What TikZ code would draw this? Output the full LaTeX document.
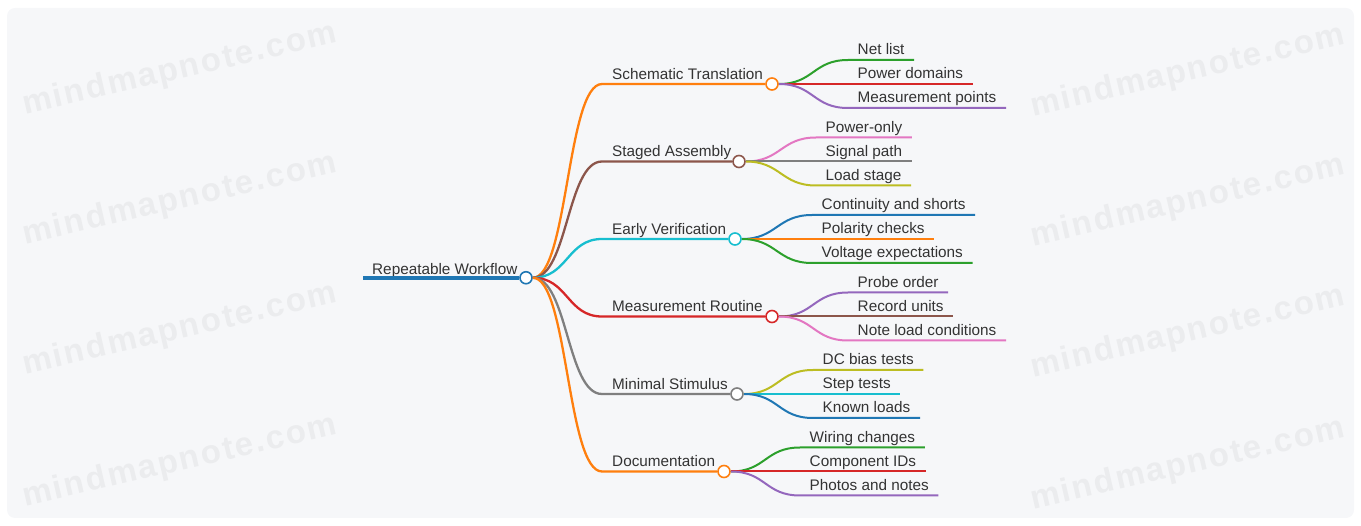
\documentclass[tikz,border=0pt]{standalone}
\usepackage{fontspec}
\setmainfont{Liberation Sans}
\usepackage{xcolor}
\definecolor{cblue}{HTML}{1F77B4}
\definecolor{corange}{HTML}{FF7F0E}
\definecolor{cgreen}{HTML}{2CA02C}
\definecolor{cred}{HTML}{D62728}
\definecolor{cpurple}{HTML}{9467BD}
\definecolor{cbrown}{HTML}{8C564B}
\definecolor{cpink}{HTML}{E377C2}
\definecolor{cgray}{HTML}{7F7F7F}
\definecolor{colive}{HTML}{BCBD22}
\definecolor{ccyan}{HTML}{17BECF}
\definecolor{ink}{HTML}{333333}
\definecolor{panel}{HTML}{F6F7F9}
\definecolor{wmark}{HTML}{EBECEE}
\tikzset{
  knob/.style={circle, draw=#1, fill=white, line width=1.6pt, inner sep=0pt, minimum size=12pt},
  topic/.style={anchor=south west, inner xsep=10pt, inner ysep=4.5pt, text height=11pt, text depth=0pt,
    text=ink, font=\fontsize{15.3}{18}\selectfont},
  leaf/.style={topic, inner xsep=9.5pt, inner ysep=5pt},
  wm/.style={rotate=13, text=wmark, font=\fontsize{33}{40}\selectfont\bfseries\addfontfeature{LetterSpace=6}},
  branch/.style={line width=2.3pt},
  twig/.style={line width=2pt}
}
\begin{document}
\begin{tikzpicture}[x=1pt,y=-1pt]
\useasboundingbox (0,0) rectangle (1361,526);
\fill [panel, rounded corners=8pt] (7,8) rectangle (1354,518);

\node [wm] at (180,70) {mindmapnote.com};
\node [wm] at (180,200) {mindmapnote.com};
\node [wm] at (180,330) {mindmapnote.com};
\node [wm] at (180,462) {mindmapnote.com};
\node [wm] at (1188,72) {mindmapnote.com};
\node [wm] at (1188,202) {mindmapnote.com};
\node [wm] at (1188,333) {mindmapnote.com};
\node [wm] at (1188,465) {mindmapnote.com};

\node [knob=cblue] (root) at (526,277.75) {};
\node [topic, inner xsep=9pt, inner ysep=3.5pt] (rootl) at (363,277.75) {Repeatable Workflow};
\draw [cblue, line width=4.2pt] (rootl.south west) -- (root.west);

\node [knob=corange] (st) at (772,84) {};
\node [topic] (stl) at (602,84) {Schematic Translation};
\draw [corange, branch] (root.east) .. controls +(35,0) and +(-35,0) .. (stl.south west) -- (st.west);
\node [leaf] (st1) at (848,60) {Net list};
\node [leaf] (st2) at (848,84) {Power domains};
\node [leaf] (st3) at (848,108) {Measurement points};
\draw [cgreen, twig] (st.east) .. controls +(35,0) and +(-35,0) .. (st1.south west) -- (st1.south east);
\draw [cred, twig] (st.east) -- (st2.south west) -- (st2.south east);
\draw [cpurple, twig] (st.east) .. controls +(35,0) and +(-35,0) .. (st3.south west) -- (st3.south east);

\node [knob=cbrown] (sa) at (739,161.5) {};
\node [topic] (sal) at (602,161.5) {Staged Assembly};
\draw [cbrown, branch] (root.east) .. controls +(35,0) and +(-35,0) .. (sal.south west) -- (sa.west);
\node [leaf] (sa1) at (816,137.5) {Power-only};
\node [leaf] (sa2) at (816,161.5) {Signal path};
\node [leaf] (sa3) at (816,185.5) {Load stage};
\draw [cpink, twig] (sa.east) .. controls +(35,0) and +(-35,0) .. (sa1.south west) -- (sa1.south east);
\draw [cgray, twig] (sa.east) -- (sa2.south west) -- (sa2.south east);
\draw [colive, twig] (sa.east) .. controls +(35,0) and +(-35,0) .. (sa3.south west) -- (sa3.south east);

\node [knob=ccyan] (ev) at (735,239) {};
\node [topic] (evl) at (602,239) {Early Verification};
\draw [ccyan, branch] (root.east) .. controls +(35,0) and +(-35,0) .. (evl.south west) -- (ev.west);
\node [leaf] (ev1) at (812,215) {Continuity and shorts};
\node [leaf] (ev2) at (812,239) {Polarity checks};
\node [leaf] (ev3) at (812,263) {Voltage expectations};
\draw [cblue, twig] (ev.east) .. controls +(35,0) and +(-35,0) .. (ev1.south west) -- (ev1.south east);
\draw [corange, twig] (ev.east) -- (ev2.south west) -- (ev2.south east);
\draw [cgreen, twig] (ev.east) .. controls +(35,0) and +(-35,0) .. (ev3.south west) -- (ev3.south east);

\node [knob=cred] (mr) at (772,316.5) {};
\node [topic] (mrl) at (602,316.5) {Measurement Routine};
\draw [cred, branch] (root.east) .. controls +(35,0) and +(-35,0) .. (mrl.south west) -- (mr.west);
\node [leaf] (mr1) at (848,292.5) {Probe order};
\node [leaf] (mr2) at (848,316.5) {Record units};
\node [leaf] (mr3) at (848,340.5) {Note load conditions};
\draw [cpurple, twig] (mr.east) .. controls +(35,0) and +(-35,0) .. (mr1.south west) -- (mr1.south east);
\draw [cbrown, twig] (mr.east) -- (mr2.south west) -- (mr2.south east);
\draw [cpink, twig] (mr.east) .. controls +(35,0) and +(-35,0) .. (mr3.south west) -- (mr3.south east);

\node [knob=cgray] (ms) at (737,394) {};
\node [topic] (msl) at (602,394) {Minimal Stimulus};
\draw [cgray, branch] (root.east) .. controls +(35,0) and +(-35,0) .. (msl.south west) -- (ms.west);
\node [leaf] (ms1) at (813,370) {DC bias tests};
\node [leaf] (ms2) at (813,394) {Step tests};
\node [leaf] (ms3) at (813,418) {Known loads};
\draw [colive, twig] (ms.east) .. controls +(35,0) and +(-35,0) .. (ms1.south west) -- (ms1.south east);
\draw [ccyan, twig] (ms.east) -- (ms2.south west) -- (ms2.south east);
\draw [cblue, twig] (ms.east) .. controls +(35,0) and +(-35,0) .. (ms3.south west) -- (ms3.south east);

\node [knob=corange] (dc) at (724,471.5) {};
\node [topic] (dcl) at (602,471.5) {Documentation};
\draw [corange, branch] (root.east) .. controls +(35,0) and +(-35,0) .. (dcl.south west) -- (dc.west);
\node [leaf] (dc1) at (800,447.5) {Wiring changes};
\node [leaf] (dc2) at (800,471.5) {Component IDs};
\node [leaf] (dc3) at (800,495.5) {Photos and notes};
\draw [cgreen, twig] (dc.east) .. controls +(35,0) and +(-35,0) .. (dc1.south west) -- (dc1.south east);
\draw [cred, twig] (dc.east) -- (dc2.south west) -- (dc2.south east);
\draw [cpurple, twig] (dc.east) .. controls +(35,0) and +(-35,0) .. (dc3.south west) -- (dc3.south east);
\end{tikzpicture}
\end{document}
